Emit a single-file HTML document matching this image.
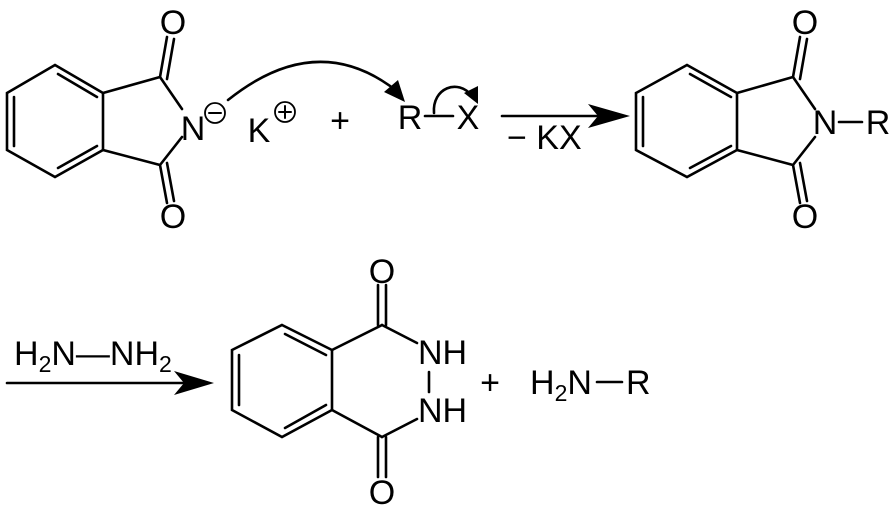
<!DOCTYPE html>
<html><head><style>
html,body{margin:0;padding:0;background:#fff;}
svg{display:block;}
text{font-family:"Liberation Sans",sans-serif;fill:#000;}
</style></head><body>
<svg width="895" height="512" viewBox="0 0 895 512" xmlns="http://www.w3.org/2000/svg">
<g stroke="#000" stroke-width="2.6" fill="none" stroke-linecap="round">
<polygon points="55,65 103,93 103,150 55,177 7,150 7,93"/>
<line x1="58" y1="74" x2="97" y2="97"/>
<line x1="58" y1="168" x2="97" y2="146"/>
<line x1="14" y1="97" x2="14" y2="146"/>
<line x1="103" y1="93" x2="160" y2="77"/>
<line x1="103" y1="150" x2="160" y2="165"/>
<line x1="160" y1="77" x2="182" y2="109"/>
<line x1="160" y1="165" x2="182" y2="137"/>
<line x1="160" y1="77" x2="167" y2="37"/>
<line x1="167" y1="79" x2="174" y2="39"/>
<line x1="160" y1="165" x2="167" y2="203"/>
<line x1="167" y1="163" x2="174" y2="201"/>
<circle cx="215" cy="113" r="10" stroke-width="1.8"/>
<line x1="209" y1="113" x2="221" y2="113" stroke-width="2"/>
<circle cx="285" cy="112" r="10" stroke-width="1.8"/>
<line x1="279" y1="112" x2="291" y2="112" stroke-width="2"/>
<line x1="285" y1="106" x2="285" y2="118" stroke-width="2"/>
<path d="M228,100 Q318,28 398,92"/>
<line x1="425" y1="116" x2="453" y2="116"/>
<path d="M434,113 C432,88 458,78 472,96"/>
<line x1="502" y1="116" x2="600" y2="116"/>
<polygon points="687,65 737,93 737,150 687,177 636,150 636,93"/>
<line x1="690" y1="74" x2="731" y2="97"/>
<line x1="690" y1="168" x2="731" y2="146"/>
<line x1="643" y1="97" x2="643" y2="146"/>
<line x1="737" y1="93" x2="793" y2="77"/>
<line x1="737" y1="150" x2="793" y2="165"/>
<line x1="793" y1="77" x2="815" y2="109"/>
<line x1="793" y1="165" x2="815" y2="137"/>
<line x1="793" y1="77" x2="800" y2="37"/>
<line x1="800" y1="79" x2="807" y2="39"/>
<line x1="793" y1="165" x2="800" y2="203"/>
<line x1="800" y1="163" x2="807" y2="201"/>
<line x1="839" y1="122" x2="862" y2="122"/>
<line x1="7" y1="383" x2="185" y2="383"/>
<polygon points="282,325 332,350 332,410 282,437 232,410 232,350"/>
<line x1="285" y1="334" x2="326" y2="355"/>
<line x1="285" y1="428" x2="326" y2="405"/>
<line x1="239" y1="355" x2="239" y2="405"/>
<line x1="332" y1="350" x2="382" y2="325"/>
<line x1="332" y1="410" x2="382" y2="437"/>
<line x1="382" y1="325" x2="417" y2="343"/>
<line x1="382" y1="437" x2="417" y2="419"/>
<line x1="429" y1="372" x2="429" y2="392"/>
<line x1="378" y1="325" x2="378" y2="285"/>
<line x1="386" y1="325" x2="386" y2="285"/>
<line x1="378" y1="437" x2="378" y2="477"/>
<line x1="386" y1="437" x2="386" y2="477"/>
<line x1="597" y1="382" x2="622" y2="382"/>
</g>
<g fill="#000" stroke="none">
<polygon points="405,102 384,92 398,80"/>
<polygon points="478,104 464,93 478,86"/>
<polygon points="630,116 588,104 598,116 588,128"/>
<polygon points="214,383 174,371 184,383 174,395"/>
</g>
<g font-size="34">
<text x="173" y="34" text-anchor="middle">O</text>
<text x="173" y="228" text-anchor="middle">O</text>
<text x="193" y="140" text-anchor="middle">N</text>
<text x="259" y="142" text-anchor="middle">K</text>
<text x="340" y="132" text-anchor="middle">+</text>
<text x="410" y="129" text-anchor="middle">R</text>
<text x="468" y="129" text-anchor="middle">X</text>
<text x="507" y="149">− KX</text>
<text x="805" y="34" text-anchor="middle">O</text>
<text x="805" y="228" text-anchor="middle">O</text>
<text x="825" y="134" text-anchor="middle">N</text>
<text x="878" y="134" text-anchor="middle">R</text>
<text x="14" y="365">H<tspan font-size="23" dy="7">2</tspan><tspan dy="-7">N—NH</tspan><tspan font-size="23" dy="7">2</tspan></text>
<text x="382" y="283" text-anchor="middle">O</text>
<text x="382" y="504" text-anchor="middle">O</text>
<text x="418" y="364">NH</text>
<text x="418" y="422">NH</text>
<text x="490" y="394" text-anchor="middle">+</text>
<text x="530" y="394">H<tspan font-size="23" dy="7">2</tspan><tspan dy="-7">N</tspan></text>
<text x="626" y="394">R</text>
</g>
</svg>
</body></html>
